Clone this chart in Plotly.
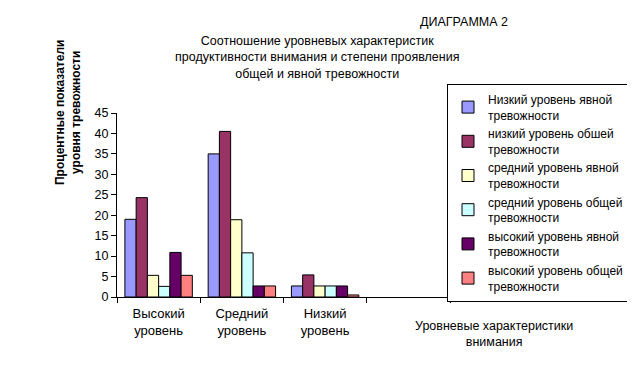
import plotly.graph_objects as go

categories = ["Высокий<br>уровень", "Средний<br>уровень", "Низкий<br>уровень", " "]
series_names = [
    "Низкий уровень явной<br>тревожности",
    "низкий уровень обшей<br>тревожности",
    "средний уровень явной<br>тревожности",
    "средний уровень общей<br>тревожности",
    "высокий уровень явной<br>тревожности",
    "высокий уровень общей<br>тревожности",
]
low_explicit = [19.0, 35.0, 2.7, None]
low_general = [24.3, 40.5, 5.4, None]
mid_explicit = [5.3, 18.9, 2.7, None]
mid_general = [2.6, 10.8, 2.7, None]
high_explicit = [10.9, 2.7, 2.7, None]
high_general = [5.3, 2.7, 0.5, None]
series_values = [low_explicit, low_general, mid_explicit, mid_general, high_explicit, high_general]
colors = ["#9999FF", "#993366", "#FFFFCC", "#CCFFFF", "#660066", "#FF8080"]
y_ticks = [0, 5, 10, 15, 20, 25, 30, 35, 40, 45]

FONT = "Liberation Sans, Arial, sans-serif"

fig = go.Figure()
for i, (name, vals, col) in enumerate(zip(series_names, series_values, colors)):
    fig.add_trace(go.Bar(
        x=categories, y=vals, name=name,
        marker=dict(color=col, line=dict(color="black", width=1)),
        legendgroup=str(i),
    ))

# page body has an 8px margin, so the figure is drawn 8px smaller
W, H = 627, 376
L, T = 109, 105
pw, ph = 333, 184
R = W - L - pw
B = H - T - ph

# helpers: position in the 635x384 reference -> paper coords
def px(x):
    return (x - 117) / pw

def py(y):
    return (297 - y) / ph

fig.update_layout(
    width=W, height=H,
    margin=dict(l=L, r=R, t=T, b=B, pad=0, autoexpand=False),
    paper_bgcolor="white", plot_bgcolor="white",
    font=dict(family=FONT, size=12, color="black"),
    barmode="group", bargap=0.19, bargroupgap=0,
    showlegend=True,
    legend=dict(
        x=px(447), y=py(84), xanchor="left", yanchor="top",
        bordercolor="black", borderwidth=1, bgcolor="white",
        font=dict(family=FONT, size=12, color="black"),
        tracegroupgap=3, traceorder="normal", maxheight=400,
    ),
    xaxis=dict(
        type="category", categoryorder="array", categoryarray=categories,
        tickson="boundaries", ticks="outside", ticklen=5, tickcolor="black",
        showline=True, linecolor="black", linewidth=1, showgrid=False,
        tickfont=dict(family=FONT, size=13, color="black"),
        ticklabelstandoff=4,
        range=[-0.5, 3.5],
    ),
    yaxis=dict(
        range=[0, 45], tickvals=y_ticks, ticks="outside", ticklen=5, tickcolor="black",
        showline=True, linecolor="black", linewidth=1, showgrid=False, zeroline=False,
        tickfont=dict(family=FONT, size=12.5, color="black"),
    ),
    annotations=[
        dict(text="ДИАГРАММА 2", xref="paper", yref="paper",
             x=px(464), y=py(22), showarrow=False,
             font=dict(size=12.5), xanchor="center", yanchor="middle"),
        dict(text="Соотношение уровневых характеристик<br>продуктивности внимания и степени проявления<br>общей и явной тревожности",
             xref="paper", yref="paper", x=px(317), y=py(57),
             showarrow=False, font=dict(size=12.5), xanchor="center", yanchor="middle"),
        dict(text="<b>Процентные показатели<br>уровня тревожности</b>",
             xref="paper", yref="paper", x=px(68), y=py(113),
             showarrow=False, textangle=-90, font=dict(size=12),
             xanchor="center", yanchor="middle"),
        dict(text="Уровневые характеристики<br>внимания",
             xref="paper", yref="paper", x=px(494), y=py(334),
             showarrow=False, font=dict(size=12.5), xanchor="center", yanchor="middle"),
    ],
)

fig.write_html("out.html")
